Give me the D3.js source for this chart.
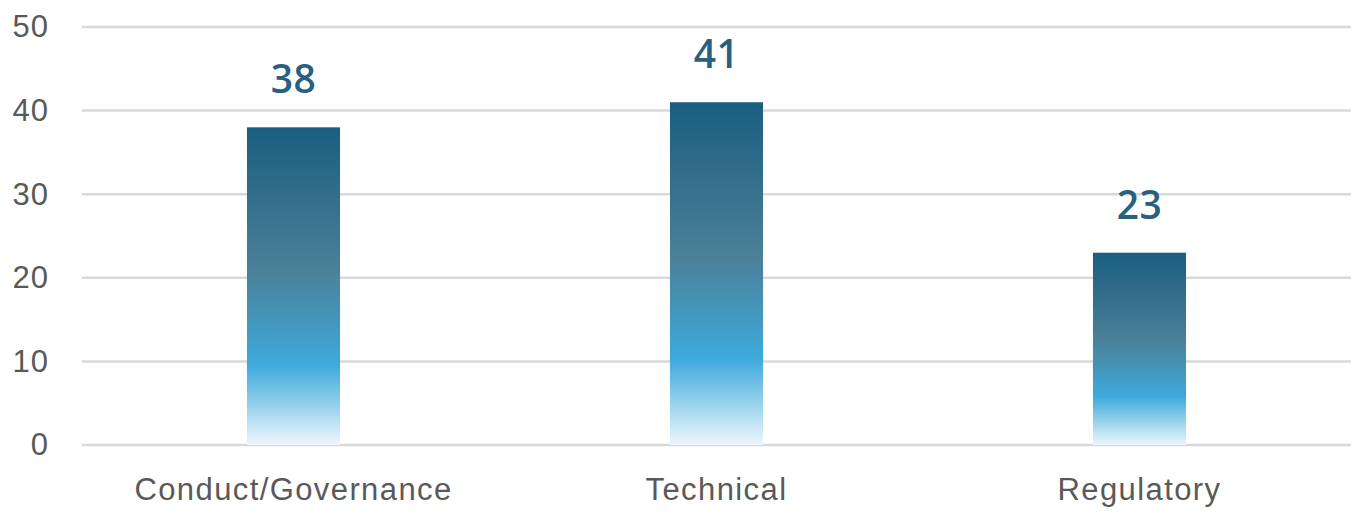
<!DOCTYPE html>
<html><head><meta charset="utf-8">
<script src="https://cdn.jsdelivr.net/npm/d3@7"></script>
<style>body{margin:0;background:#fff}svg{display:block}</style>
</head><body>
<svg id="c" width="1355" height="512"></svg>
<script>
const categories = ["Conduct/Governance", "Technical", "Regulatory"];
const values = [38, 41, 23];
const yTicks = [0, 10, 20, 30, 40, 50];

(function () {
const svg = d3.select("#c");
const mL = 82, mR = 1351, mT = 27, mB = 445;
const x = d3.scaleBand().domain(categories).range([mL, mR]).paddingInner(0.78).paddingOuter(0.39);
const y = d3.scaleLinear().domain([0, 50]).range([mB, mT]);

const defs = svg.append("defs");
const g = defs.append("linearGradient").attr("id", "grad").attr("x1", 0).attr("y1", 0).attr("x2", 0).attr("y2", 1);
[[0, "#1a5e7f"], [0.45, "#4b8098"], [0.75, "#3eaadc"], [1, "#eef7fc"]].forEach(([o, c]) =>
  g.append("stop").attr("offset", o).attr("stop-color", c));

svg.append("g").selectAll("line").data(yTicks).join("line")
  .attr("x1", mL).attr("x2", mR)
  .attr("y1", d => y(d)).attr("y2", d => y(d))
  .attr("stroke", "#d9d9d9").attr("stroke-width", 2.5);

const yAxis = svg.append("g").attr("transform", `translate(${mL - 33},0)`)
  .call(d3.axisLeft(y).tickValues(yTicks).tickSize(0).tickPadding(0));
yAxis.select(".domain").remove();
yAxis.selectAll("text").attr("font-family", "'Liberation Sans', Arial, sans-serif")
  .attr("font-size", 31).attr("letter-spacing", 1).attr("fill", "#595959");

svg.append("g").selectAll("rect").data(values).join("rect")
  .attr("x", (d, i) => x(categories[i]))
  .attr("width", x.bandwidth())
  .attr("y", d => y(d))
  .attr("height", d => y(0) - y(d))
  .attr("fill", "url(#grad)");

svg.append("g").selectAll("text").data(values).join("text")
  .attr("x", (d, i) => x(categories[i]) + x.bandwidth() / 2)
  .attr("y", d => y(d) - 34)
  .attr("text-anchor", "middle")
  .attr("font-family", "'Open Sans', sans-serif").attr("font-weight", 600)
  .attr("font-size", 39).attr("letter-spacing", 0.5).attr("fill", "#2a5f80")
  .text(d => d);

const xAxis = svg.append("g").attr("transform", `translate(0,${mB})`)
  .call(d3.axisBottom(x).tickSize(0).tickPadding(0));
xAxis.select(".domain").remove();
xAxis.selectAll("text").attr("dy", null).attr("y", 55)
  .attr("font-family", "'Liberation Sans', Arial, sans-serif")
  .attr("font-size", 31).attr("letter-spacing", 1.4).attr("fill", "#595959");
})();
</script>
</body></html>
